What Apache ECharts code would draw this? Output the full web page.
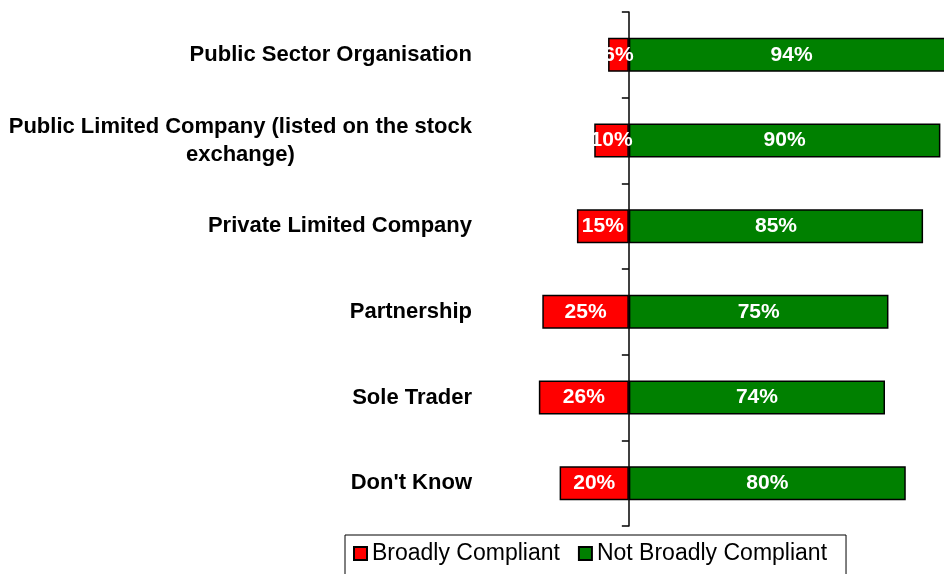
<!DOCTYPE html>
<html>
<head>
<meta charset="utf-8">
<script src="https://cdn.jsdelivr.net/npm/echarts@6/dist/echarts.min.js"></script>
<style>html,body{margin:0;padding:0;background:#fff;}#c{width:944px;height:574px;}</style>
</head>
<body>
<div id="c"></div>
<script>
var categories = [
  "Public Sector Organisation",
  "Public Limited Company (listed on the stock\nexchange)",
  "Private Limited Company",
  "Partnership",
  "Sole Trader",
  "Don't Know"
];
var seriesNames = ["Broadly Compliant", "Not Broadly Compliant"];
var broadlyCompliant = [6, 10, 15, 25, 26, 20];
var notBroadlyCompliant = [94, 90, 85, 75, 74, 80];

var chart = echarts.init(document.getElementById('c'), null, {renderer: 'canvas'});
var labelStyle = {
  show: true,
  position: 'inside',
  color: '#fff',
  fontFamily: 'Liberation Sans, Arial, sans-serif',
  fontWeight: 'bold',
  fontSize: 21,
  formatter: function (p) { return Math.abs(p.value) + '%'; }
};
chart.setOption({
  animation: false,
  backgroundColor: '#fff',
  grid: {left: 525, top: 12, width: 450, height: 514, containLabel: false, outerBoundsMode: 'none'},
  xAxis: {
    type: 'value', min: -30, max: 100, show: false
  },
  yAxis: {
    type: 'category',
    inverse: true,
    data: categories,
    axisLine: {show: true, onZero: true, lineStyle: {color: '#000', width: 1.5}},
    axisTick: {show: true, length: 7, lineStyle: {color: '#000', width: 1.5}},
    splitLine: {show: false},
    axisLabel: {
      margin: 53,
      color: '#000',
      fontFamily: 'Liberation Sans, Arial, sans-serif',
      fontWeight: 'bold',
      fontSize: 22,
      lineHeight: 28,
      formatter: function (v) {
        if (v.indexOf('\n') >= 0) {
          return v.split('\n').map(function (s) { return '{c|' + s + '}'; }).join('\n');
        }
        return v;
      },
      rich: {
        c: {
          align: 'center',
          color: '#000',
          fontFamily: 'Liberation Sans, Arial, sans-serif',
          fontWeight: 'bold',
          fontSize: 22,
          lineHeight: 28
        }
      }
    }
  },
  legend: {
    data: seriesNames,
    left: 345,
    top: 535,
    orient: 'horizontal',
    padding: [7, 19, 12, 8],
    borderColor: '#000',
    borderWidth: 1,
    itemWidth: 13,
    itemHeight: 13,
    itemGap: 18,
    icon: 'rect',
    textStyle: {color: '#000', fontFamily: 'Liberation Sans, Arial, sans-serif', fontSize: 23}
  },
  series: [
    {
      name: seriesNames[0],
      type: 'bar',
      stack: 'total',
      barWidth: 34,
      data: broadlyCompliant.map(function (v) { return -v; }),
      itemStyle: {color: '#ff0000', borderColor: '#000', borderWidth: 1.5},
      label: labelStyle
    },
    {
      name: seriesNames[1],
      type: 'bar',
      stack: 'total',
      barWidth: 34,
      data: notBroadlyCompliant,
      itemStyle: {color: '#008000', borderColor: '#000', borderWidth: 1.5},
      label: labelStyle
    }
  ]
});
</script>
</body>
</html>
